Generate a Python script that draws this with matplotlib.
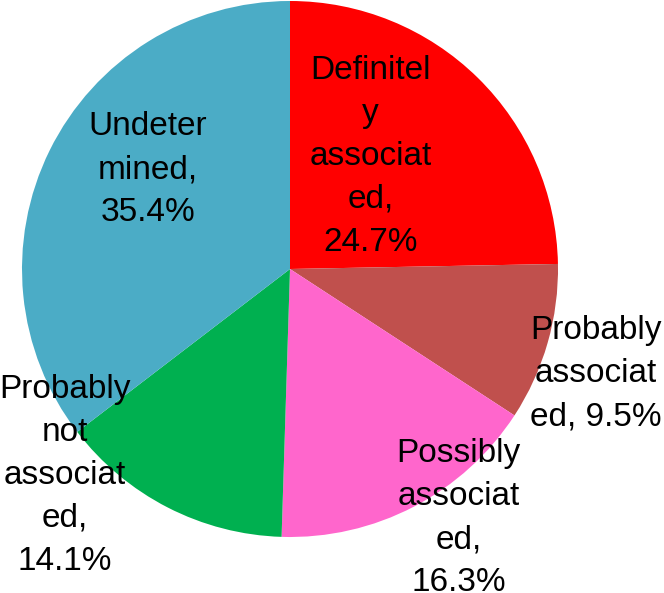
import matplotlib
matplotlib.use("Agg")
import matplotlib.pyplot as plt

# slice data, clockwise from 12 o'clock
labels = ["Definitel\ny\nassociat\ned,\n24.7%",
          "Probably\nassociat\ned, 9.5%",
          "Possibly\nassociat\ned,\n16.3%",
          "Probably\nnot\nassociat\ned,\n14.1%",
          "Undeter\nmined,\n35.4%"]
shares = [24.7, 9.5, 16.3, 14.1, 35.4]
colors = ["#FF0000", "#C0504D", "#FF66CC", "#00B050", "#4BACC6"]
# label centres in pie-radius units
label_x = [0.30, 1.14, 0.63, -0.84, -0.53]
label_y = [0.42, -0.39, -0.93, -0.77, 0.37]

W, H = 664, 593
cx, cy, r = 290, 269, 268

fig = plt.figure(figsize=(W / 100, H / 100), dpi=100)
ax = fig.add_axes([(cx - r) / W, (H - cy - r) / H, 2 * r / W, 2 * r / H])

ax.pie(shares, colors=colors, startangle=90, counterclock=False,
       wedgeprops={"linewidth": 0})
ax.set_xlim(-1, 1)
ax.set_ylim(-1, 1)
ax.set_aspect("equal")
ax.axis("off")

for lab, x, y in zip(labels, label_x, label_y):
    ax.text(x, y, lab, ha="center", va="center", multialignment="center",
            fontsize=24, family="Liberation Sans", linespacing=1.5,
            color="black")

fig.savefig("out.png", dpi=100)
